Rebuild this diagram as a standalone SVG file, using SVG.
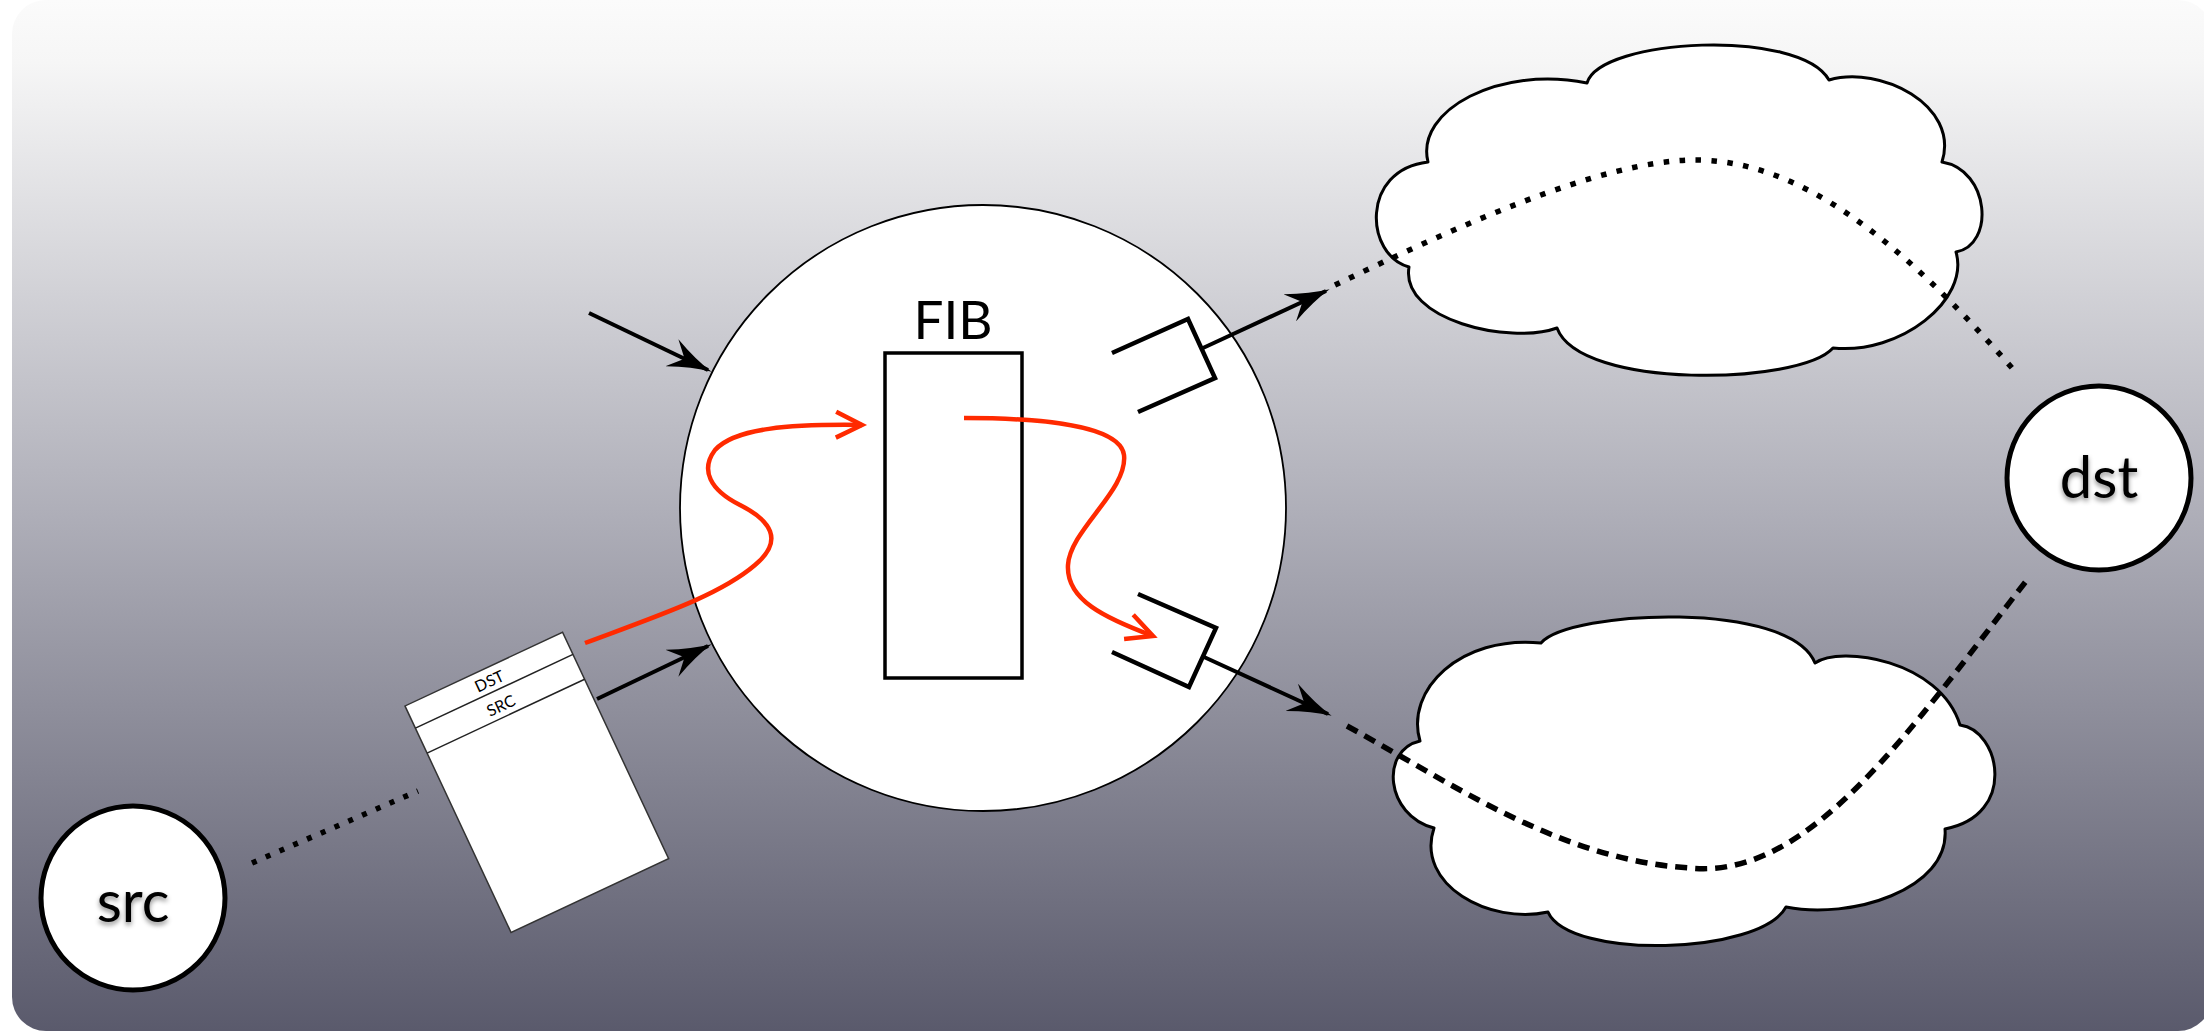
<svg xmlns="http://www.w3.org/2000/svg" width="2204" height="1033" viewBox="0 0 2204 1033">
<defs>
<linearGradient id="bg" x1="0" y1="0" x2="0" y2="1">
<stop offset="0" stop-color="#fbfbfb"/>
<stop offset="0.06" stop-color="#f6f6f6"/>
<stop offset="0.5" stop-color="#aeaeb8"/>
<stop offset="1" stop-color="#5a5a6c"/>
</linearGradient>
<marker id="ah" markerUnits="userSpaceOnUse" viewBox="0 0 44 30" markerWidth="44" markerHeight="30" refX="40" refY="15" orient="auto">
<path d="M0,0 Q24,11 44,15 Q24,19 0,30 L14,15 Z" fill="#000"/>
</marker>
<marker id="rh" markerUnits="userSpaceOnUse" viewBox="0 0 32 30" markerWidth="32" markerHeight="30" refX="28" refY="15" orient="auto" overflow="visible">
<path d="M2,2 L28,15 L2,28" fill="none" stroke="#ff2a00" stroke-width="4.5"/>
</marker>
<filter id="sh" x="-20%" y="-20%" width="140%" height="160%">
<feDropShadow dx="0" dy="3" stdDeviation="2.5" flood-color="#000" flood-opacity="0.45"/>
</filter>
</defs>
<style>
.cloud{fill:#fff;stroke:#000;stroke-width:3;stroke-linejoin:round}
.host{fill:#fff;stroke:#000;stroke-width:5}
.lbl{font-family:Lato,"Open Sans","Liberation Sans",sans-serif;fill:#000;text-anchor:middle}
.arrow{fill:none;stroke:#000;stroke-width:4;marker-end:url(#ah)}
.dot{fill:none;stroke:#000;stroke-width:5.5}
.red{fill:none;stroke:#ff2a00;stroke-width:4.5;marker-end:url(#rh)}
.iface{fill:none;stroke:#000;stroke-width:4.5;stroke-linejoin:miter}
</style>
<rect x="12" y="0" width="2200" height="1031" rx="34" fill="url(#bg)"/>

<g id="cloud-top">
<path class="cloud" d="M1587,83 C1600,38 1800,28 1829,80 C1880,65 1960,105 1942,162 C1990,170 1995,245 1956,252 C1970,300 1900,355 1833,348 C1800,385 1580,390 1557,328 C1510,345 1400,320 1409,267 C1365,255 1360,170 1428,162 C1415,110 1500,65 1587,83 Z"/>
</g>
<g id="cloud-bottom">
<path class="cloud" d="M1541,643 C1570,610 1790,600 1815,663 C1840,645 1940,660 1960,725 C2000,730 2018,815 1945,829 C1950,890 1850,920 1786,907 C1760,955 1570,960 1548,912 C1490,925 1415,885 1434,828 C1385,815 1380,750 1420,741 C1405,690 1460,635 1541,643 Z"/>
</g>

<g id="router">
<circle cx="983" cy="508" r="303" fill="#fff" stroke="#000" stroke-width="1.8"/>
</g>
<g id="fib">
<rect x="885" y="353" width="137" height="325" fill="#fff" stroke="#000" stroke-width="3.5"/>
<text class="lbl" x="953" y="339" font-size="53">FIB</text>
</g>
<g id="iface-top">
<polyline class="iface" points="1112,353 1188,319 1215,378 1138,412"/>
</g>
<g id="iface-bottom">
<polyline class="iface" points="1138,594 1216,628 1189,687 1112,652"/>
</g>
<g id="packet" transform="translate(405,706) rotate(-25.1)">
<rect x="0" y="0" width="174" height="250" fill="#fff" stroke="#333" stroke-width="1.5"/>
<line x1="0" y1="24.5" x2="174" y2="24.5" stroke="#222" stroke-width="1.5"/>
<line x1="0" y1="52" x2="174" y2="52" stroke="#222" stroke-width="1.5"/>
<text class="lbl" x="87" y="19" font-size="16">DST</text>
<text class="lbl" x="87" y="46" font-size="16">SRC</text>
</g>
<g id="src">
<circle class="host" cx="133" cy="898" r="92"/>
<text class="lbl" x="133" y="922" font-size="58" filter="url(#sh)">src</text>
</g>
<g id="dst">
<circle class="host" cx="2099" cy="478" r="92"/>
<text class="lbl" x="2099" y="498" font-size="58" filter="url(#sh)">dst</text>
</g>

<g id="connectors">
<line class="dot" x1="252" y1="863" x2="418" y2="791" stroke-dasharray="5 10" stroke-width="5"/>
<path class="dot" d="M1335,285 C1450,230 1600,160 1695,160 C1800,160 1900,240 2012,368" stroke-dasharray="5.5 10.5"/>
<path class="dot" d="M1347,726 C1455,785 1560,860 1690,868 C1810,880 1910,730 2027,580" stroke-dasharray="12 8"/>
<line class="arrow" x1="589" y1="313" x2="708" y2="370"/>
<line class="arrow" x1="597" y1="699" x2="708" y2="646"/>
<line class="arrow" x1="1203" y1="348" x2="1326" y2="291"/>
<line class="arrow" x1="1204" y1="657" x2="1328" y2="714"/>
<path class="red" d="M585,643 C660,615 720,595 755,565 C785,540 770,520 740,505 C710,490 700,470 715,450 C735,428 790,424 862,425"/>
<path class="red" d="M964,418 C1040,418 1120,425 1124,455 C1128,490 1070,530 1068,565 C1066,600 1105,618 1153,636"/>
</g>
</svg>
